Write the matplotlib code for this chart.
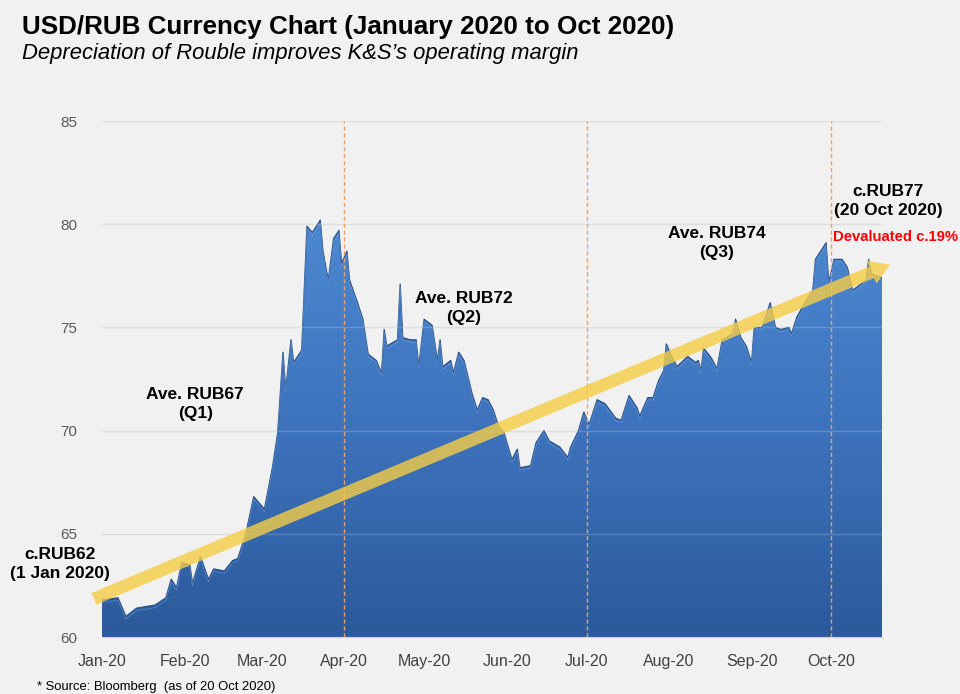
import matplotlib
matplotlib.use("Agg")
import matplotlib.pyplot as plt
import matplotlib.dates as mdates
import numpy as np
import pandas as pd
from matplotlib.patches import FancyArrowPatch
from matplotlib.colors import LinearSegmentedColormap
from matplotlib import font_manager

# USD/RUB
dates = ["2020-01-01", "2020-01-07", "2020-01-10", "2020-01-14", "2020-01-21", "2020-01-25",
         "2020-01-27", "2020-01-29", "2020-01-31", "2020-02-03", "2020-02-04", "2020-02-07",
         "2020-02-10", "2020-02-12", "2020-02-16", "2020-02-19", "2020-02-21", "2020-02-24",
         "2020-02-27", "2020-03-02", "2020-03-05", "2020-03-07", "2020-03-09", "2020-03-10",
         "2020-03-12", "2020-03-13", "2020-03-16", "2020-03-18", "2020-03-20", "2020-03-23",
         "2020-03-24", "2020-03-26", "2020-03-28", "2020-03-30", "2020-03-31", "2020-04-02",
         "2020-04-03", "2020-04-06", "2020-04-08", "2020-04-10", "2020-04-13", "2020-04-15",
         "2020-04-16", "2020-04-17", "2020-04-21", "2020-04-22", "2020-04-23", "2020-04-26",
         "2020-04-28", "2020-04-29", "2020-05-01", "2020-05-04", "2020-05-06", "2020-05-07",
         "2020-05-08", "2020-05-11", "2020-05-12", "2020-05-14", "2020-05-16", "2020-05-19",
         "2020-05-21", "2020-05-23", "2020-05-25", "2020-05-27", "2020-05-29", "2020-05-31",
         "2020-06-03", "2020-06-05", "2020-06-06", "2020-06-10", "2020-06-12", "2020-06-15",
         "2020-06-17", "2020-06-21", "2020-06-24", "2020-06-25", "2020-06-28", "2020-06-30",
         "2020-07-02", "2020-07-05", "2020-07-08", "2020-07-12", "2020-07-14", "2020-07-17",
         "2020-07-20", "2020-07-21", "2020-07-24", "2020-07-26", "2020-07-28", "2020-07-30",
         "2020-07-31", "2020-08-02", "2020-08-04", "2020-08-08", "2020-08-11", "2020-08-12",
         "2020-08-13", "2020-08-14", "2020-08-17", "2020-08-19", "2020-08-21", "2020-08-25",
         "2020-08-26", "2020-08-28", "2020-08-30", "2020-09-01", "2020-09-02", "2020-09-05",
         "2020-09-08", "2020-09-10", "2020-09-12", "2020-09-15", "2020-09-16", "2020-09-18",
         "2020-09-21", "2020-09-24", "2020-09-25", "2020-09-29", "2020-09-30", "2020-10-02",
         "2020-10-05", "2020-10-07", "2020-10-09", "2020-10-12", "2020-10-14", "2020-10-15",
         "2020-10-16", "2020-10-20"]
usdrub = [61.8, 61.9, 61.0, 61.4, 61.55, 61.9,
          62.8, 62.4, 63.6, 63.5, 62.6, 63.9,
          62.8, 63.3, 63.2, 63.7, 63.8, 65.0,
          66.8, 66.2, 68.2, 69.9, 73.8, 72.0,
          74.4, 73.3, 73.9, 79.9, 79.6, 80.2,
          78.7, 77.3, 79.3, 79.7, 78.1, 78.7,
          77.3, 76.2, 75.4, 73.7, 73.4, 72.8,
          74.9, 74.1, 74.4, 77.1, 74.5, 74.4,
          74.4, 73.1, 75.4, 75.1, 73.4, 74.4,
          73.1, 73.4, 72.8, 73.8, 73.4, 71.8,
          71.0, 71.6, 71.5, 71.0, 70.2, 69.9,
          68.6, 69.1, 68.2, 68.3, 69.4, 70.0,
          69.5, 69.2, 68.7, 69.2, 70.0, 70.9,
          70.3, 71.5, 71.3, 70.6, 70.5, 71.7,
          71.1, 70.7, 71.6, 71.6, 72.4, 72.9,
          74.2, 73.6, 73.1, 73.6, 73.3, 73.4,
          72.9, 74.0, 73.5, 73.0, 74.4, 74.7,
          75.4, 74.5, 74.1, 73.3, 75.0, 75.0,
          76.2, 75.0, 74.9, 75.0, 74.7, 75.5,
          76.2, 76.8, 78.3, 79.1, 77.2, 78.3,
          78.3, 77.9, 76.8, 77.1, 77.3, 78.3,
          77.6, 77.4]

month_ticks = ["2020-01-01", "2020-02-01", "2020-03-01", "2020-04-01", "2020-05-01",
               "2020-06-01", "2020-07-01", "2020-08-01", "2020-09-01", "2020-10-01"]
month_labels = ["Jan-20", "Feb-20", "Mar-20", "Apr-20", "May-20",
                "Jun-20", "Jul-20", "Aug-20", "Sep-20", "Oct-20"]
quarter_lines = ["2020-04-01", "2020-07-01", "2020-10-01"]
y_ticks = [60, 65, 70, 75, 80, 85]

trend_start = ("2019-12-28", 61.8)
trend_end = ("2020-10-24", 78.1)

quarter_notes = ["Ave. RUB67\n(Q1)", "Ave. RUB72\n(Q2)", "Ave. RUB74\n(Q3)"]
quarter_note_pos = [("2020-02-05", 71.3), ("2020-05-16", 75.95), ("2020-08-19", 79.1)]

installed = {f.name for f in font_manager.fontManager.ttflist}
narrow = "Liberation Sans Narrow" if "Liberation Sans Narrow" in installed else "Liberation Sans"
plt.rcParams["font.family"] = ["Liberation Sans", "DejaVu Sans"]

bg = "#f1f1f1"
x = mdates.date2num(pd.to_datetime(dates))
y = np.array(usdrub)

fig = plt.figure(figsize=(9.6, 6.94), dpi=100, facecolor=bg)
ax = fig.add_axes([0.10625, 0.0821, 0.8125, 0.7435])
ax.set_facecolor(bg)
ax.set_xlim(mdates.date2num(pd.Timestamp("2020-01-01")), mdates.date2num(pd.Timestamp("2020-10-20")))
ax.set_ylim(60, 85)

# grid under the area
for v in y_ticks[1:]:
    ax.axhline(v, color="#d9d9d9", lw=1.0, zorder=0)

# gradient filled area
poly = ax.fill_between(x, y, 60, color="none", lw=0, zorder=1)
cmap = LinearSegmentedColormap.from_list("blu", ["#2c5a9b", "#3d73bd", "#4d89d2"])
grad = np.linspace(0, 1, 256).reshape(-1, 1)
img = ax.imshow(grad, cmap=cmap, origin="lower", aspect="auto", zorder=1,
                extent=[x[0], x[-1], 60, 80.5])
path = poly.get_paths()[0]
img.set_clip_path(path, transform=ax.transData)
ax.plot(x, y, color="#2a5188", lw=0.9, zorder=2)
ax.plot(x, y - 0.12, color="#6f9fdc", lw=0.6, alpha=0.6, zorder=2)

# faint lines on top of the blue
for v in y_ticks[1:]:
    ax.axhline(v, color="white", lw=1.0, alpha=0.18, zorder=3)

for d in quarter_lines:
    ax.axvline(mdates.date2num(pd.Timestamp(d)), color="#f0a060", lw=1.0,
               ls=(0, (3, 2)), zorder=4)

# yellow trend arrow
arr = FancyArrowPatch((mdates.date2num(pd.Timestamp(trend_start[0])), trend_start[1]),
                      (mdates.date2num(pd.Timestamp(trend_end[0])), trend_end[1]),
                      arrowstyle="simple,tail_width=0.5,head_width=1.0,head_length=0.8",
                      mutation_scale=18, color="#f7cd45", alpha=0.8, lw=0,
                      zorder=5, clip_on=False)
ax.add_patch(arr)

for s in ["top", "right", "left"]:
    ax.spines[s].set_visible(False)
ax.spines["bottom"].set_color("#d0d0d0")

ax.set_yticks(y_ticks)
ax.tick_params(axis="y", length=0, pad=18, labelsize=11, labelcolor="#595959")
ax.set_xticks(mdates.date2num(pd.to_datetime(month_ticks)))
ax.set_xticklabels(month_labels, fontfamily=narrow)
ax.tick_params(axis="x", length=0, pad=12, labelsize=11.5, labelcolor="#404040")

bold = dict(fontsize=12.5, fontweight="bold", ha="center", va="center",
            color="black", linespacing=1.35, zorder=6)
for txt, (d, v) in zip(quarter_notes, quarter_note_pos):
    ax.text(mdates.date2num(pd.Timestamp(d)), v, txt, **bold)

fig.text(60 / 960, 1 - 564 / 694, "c.RUB62\n(1 Jan 2020)", **bold)
fig.text(888 / 960, 1 - 201 / 694, "c.RUB77\n(20 Oct 2020)", **bold)
fig.text(833 / 960, 1 - 237 / 694, "Devaluated c.19%", fontsize=10.7,
         fontweight="bold", color="#ff0000", ha="left", va="center")

fig.text(22 / 960, 1 - 27 / 694, "USD/RUB Currency Chart (January 2020 to Oct 2020)",
         fontsize=18.7, fontweight="bold", ha="left", va="center")
fig.text(22 / 960, 1 - 53 / 694, "Depreciation of Rouble improves K&S\u2019s operating margin",
         fontsize=15.8, fontstyle="italic", ha="left", va="center")
fig.text(37 / 960, 1 - 687 / 694, "* Source: Bloomberg  (as of 20 Oct 2020)",
         fontsize=9.4, fontfamily=narrow, ha="left", va="center")

fig.savefig("out.png", dpi=100, facecolor=bg)
